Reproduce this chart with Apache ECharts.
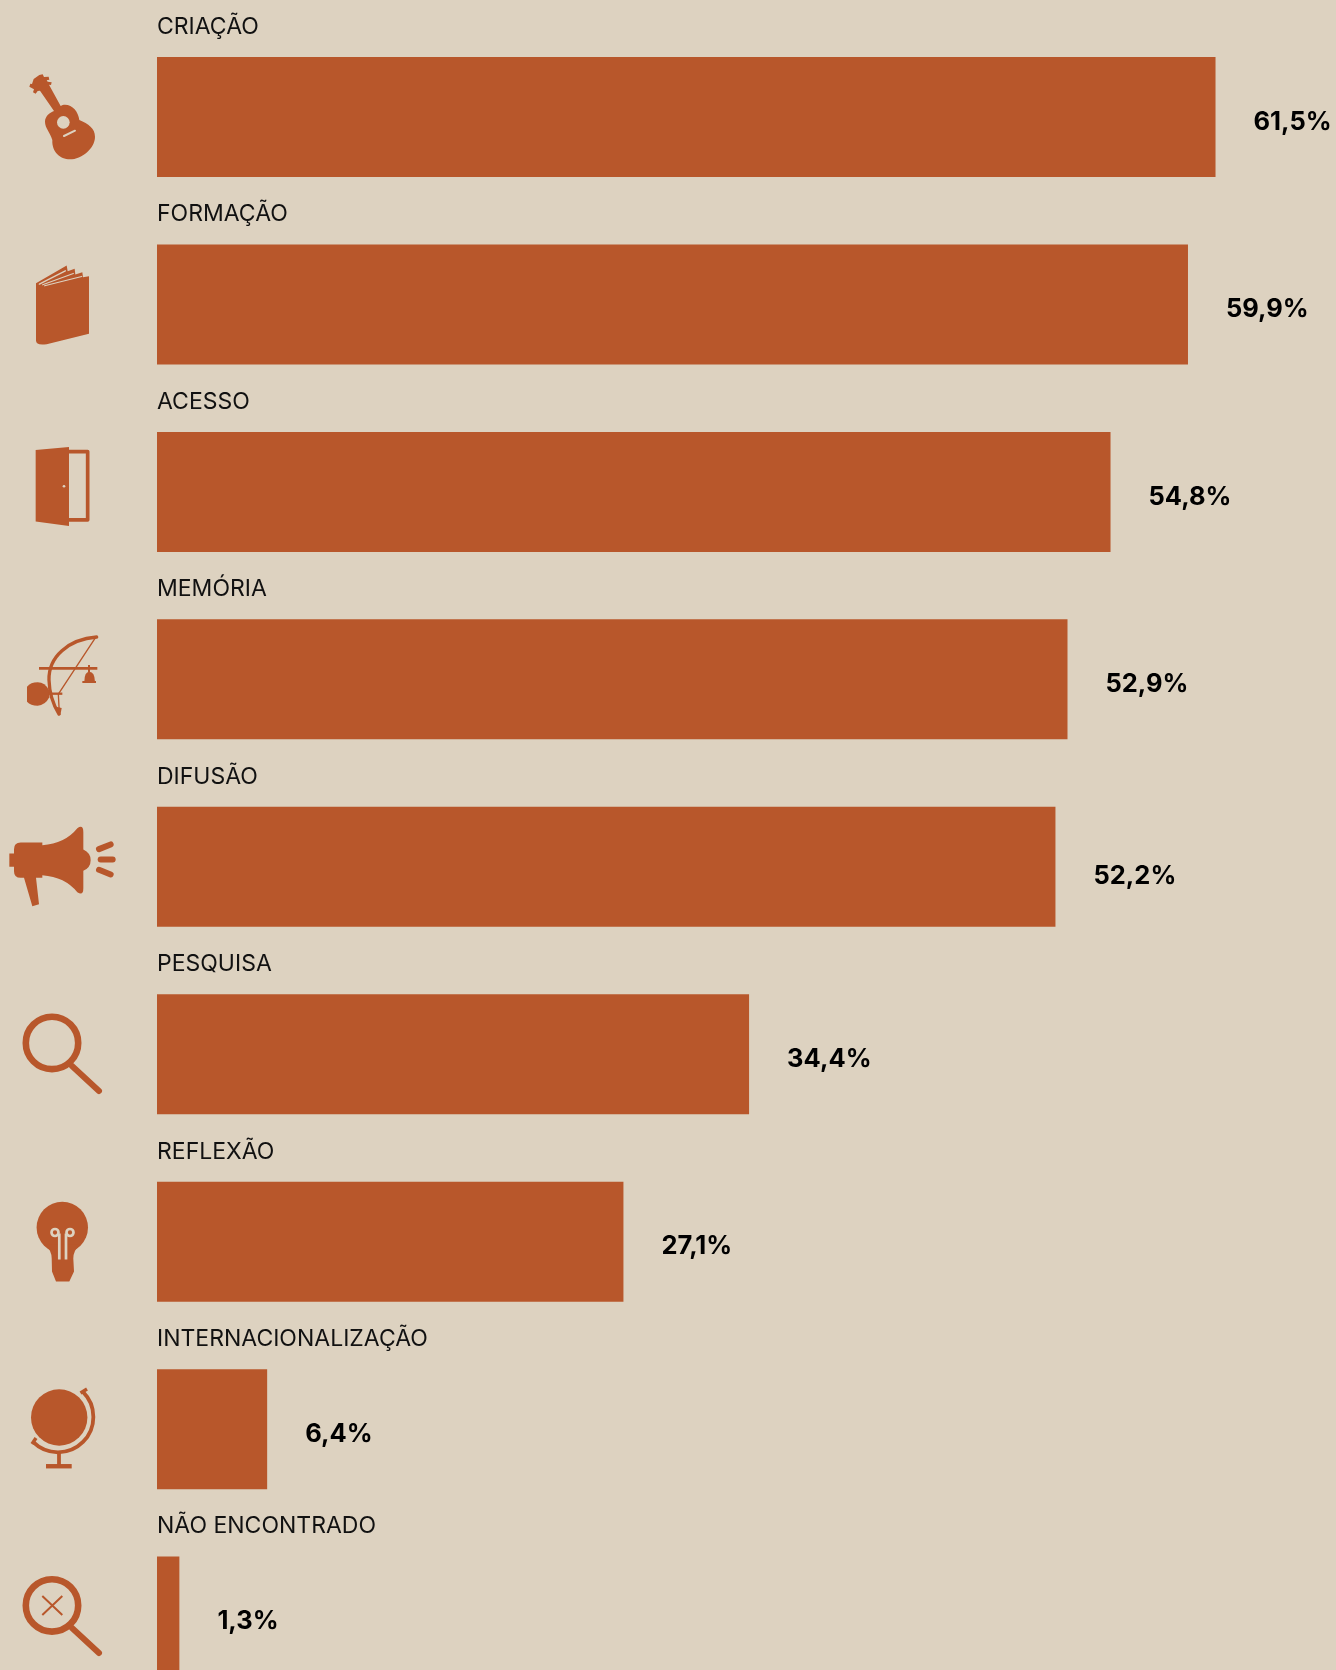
<!DOCTYPE html>
<html><head><meta charset="utf-8">
<style>html,body{margin:0;padding:0;background:#DDD2C0;overflow:hidden}#c{width:1336px;height:1670px}</style>
<script src="https://cdn.jsdelivr.net/npm/echarts@6/dist/echarts.min.js"></script>
</head><body><div id="c"></div>
<script>
const categories = ['CRIAÇÃO','FORMAÇÃO','ACESSO','MEMÓRIA','DIFUSÃO','PESQUISA','REFLEXÃO','INTERNACIONALIZAÇÃO','NÃO ENCONTRADO'];
// Bar lengths as drawn in the picture (the ACESSO bar is drawn a little longer than its printed label).
const barValues = [61.5,59.9,55.4,52.9,52.2,34.4,27.1,6.4,1.3];
const valueLabels = ['61,5%','59,9%','54,8%','52,9%','52,2%','34,4%','27,1%','6,4%','1,3%'];
const labelShift = [5,5,5,5,10,5,5,5,5];

const BAR = '#B8572B', BG = '#DDD2C0', INK = '#111111';
const fill = d => ({type:'path', shape:{pathData:d}, style:{fill:BAR}});
const stroke = (d,w,c,cap) => ({type:'path', shape:{pathData:d}, style:{fill:'none',stroke:c||BAR,lineWidth:w,lineCap:cap||'round',lineJoin:'round'}});
const disc = (cx,cy,r,c) => ({type:'circle', shape:{cx,cy,r}, style:{fill:c||BAR}});
const ring = (cx,cy,r,w,c) => ({type:'circle', shape:{cx,cy,r}, style:{fill:'none',stroke:c||BAR,lineWidth:w}});

// Each icon: pictogram drawn in its own frame, anchored at the row centre (ay) at scale s.
const icons = [
 {s:1/3, ay:351, parts:[
  fill('M120 272 L162 333 C148 338 135 350 135 365 C135 385 150 395 157 420 C155 455 180 478 210 478 C245 478 285 445 285 410 C285 385 265 372 238 360 C235 335 218 314 195 314 C190 314 186 315 182 318 L147 254 L153 255 L155 247 L143 245 L140 241 L148 239 L146 230 L132 231 L128 223 L118 225 L101 237 L96 252 L91 251 L88 260 L102 268 L99 277 L107 281 L113 273 Z'),
  disc(190,367,19,BG),
  stroke('M192 408 L225 392',6,BG)
 ]},
 {s:1/3, ay:912, parts:[
  fill('M108 848 L200 795 L203 812 L224 805 L226 822 L247 815 L249 830 L267 827 L267 1000 L140 1031 Q108 1036 108 1020 Z'),
  stroke('M118 851 L196 811',4,BG),
  stroke('M128 853 L220 819',3.5,BG),
  stroke('M134 856 L245 828',3.5,BG)
 ]},
 {s:1/3, ay:216, parts:[
  fill('M107 90 L207 81 L207 318 L107 305 Z'),
  stroke('M207 95 L263 95 L263 300 L207 300',11,BAR,'butt'),
  disc(192,199,4,BG)
 ]},
 {s:1/3, ay:778, parts:[
  stroke('M290 651 C205 658 145 710 147 780 C148 820 160 855 177 882',10),
  stroke('M285 655 L175 822 L178 880',4),
  stroke('M117 745 L292 745',8,BAR,'butt'),
  stroke('M267 735 L267 758',6,BAR,'butt'),
  fill('M253 785 Q253 755 268 755 Q284 755 285 785 Z'),
  stroke('M247 786 L288 786',6,BAR,'butt'),
  fill('M81 800 Q92 787 113 787 Q135 787 148 812 L148 832 Q135 857 113 857 Q92 857 81 845 Z'),
  stroke('M145 821 L187 821',7,BAR,'butt'),
  fill('M168 860 L185 864 L181 886 Z')
 ]},
 {s:1/3, ay:1340, parts:[
  fill('M62 1267 L127 1267 L127 1275 Q195 1270 232 1224 Q250 1212 250 1236 L250 1288 Q272 1298 272 1320 Q272 1342 250 1352 L250 1404 Q250 1428 232 1416 Q195 1370 127 1365 L127 1373 L108 1373 L117 1452 L97 1458 L72 1373 L62 1373 Q42 1373 42 1353 L42 1340 L28 1340 L28 1300 L42 1300 L42 1287 Q42 1267 62 1267 Z'),
  stroke('M297 1287 L332 1273',18),
  stroke('M302 1318 L338 1318',18),
  stroke('M297 1349 L332 1363',18)
 ]},
 {s:1, ay:1054.3, parts:[
  ring(52,1043,26.2,6.6),
  stroke('M72 1066 L99 1091',6)
 ]},
 {s:1, ay:1240.2, parts:[
  disc(62.3,1226,25.7),
  fill('M45 1243 Q51.7 1249 51.7 1257 L52 1270 L56 1280 L69.3 1280 L74 1270 L73.3 1257 Q73.3 1249 80 1243 Z'),
  ring(55,1231,3.5,2.7,BG),
  ring(70,1231,3.5,2.7,BG),
  stroke('M59.3 1232 L59.3 1258 M66 1232 L66 1258',2.7,BG,'butt')
 ]},
 {s:1, ay:1429.2, parts:[
  disc(59.2,1417.5,28.2),
  stroke('M83 1392 A35 35 0 0 1 33 1442',3.8,BAR,'butt'),
  stroke('M80.5 1393 L87 1389',3.4,BAR,'butt'),
  stroke('M32 1444 L36 1438',3.4,BAR,'butt'),
  stroke('M59 1453 L59 1466',3.8,BAR,'butt'),
  stroke('M46 1466.3 L71.7 1466.3',4.4,BAR,'butt')
 ]},
 {s:1, ay:1616.6, parts:[
  ring(52,1605.4,26.2,6.6),
  stroke('M72 1628 L99 1653',6),
  stroke('M42.3 1596 L62.3 1615 M42.3 1615 L62.3 1596',2,BAR,'butt')
 ]}
];

const chart = echarts.init(document.getElementById('c'), null, {renderer:'canvas', width:1336, height:1670});
chart.setOption({
  animation:false,
  backgroundColor:BG,
  grid:[
    {left:157, top:23.3, width:1179, height:1687, containLabel:false, outerBoundsMode:'none'},
    {left:0, top:23.3, width:157, height:1687, containLabel:false, outerBoundsMode:'none'}
  ],
  xAxis:[
    {gridIndex:0, type:'value', min:0, max:68.5, show:false},
    {gridIndex:1, type:'value', min:0, max:157, show:false}
  ],
  yAxis:[
    {gridIndex:0, type:'category', inverse:true, data:categories, show:false},
    {gridIndex:1, type:'category', inverse:true, data:categories, show:false}
  ],
  series:[
    {type:'bar', xAxisIndex:0, yAxisIndex:0, barWidth:120, barGap:'-100%', silent:true,
     itemStyle:{color:BAR},
     data:barValues.map((v,i)=>({value:v,
       label:{show:true, position:'right', distance:38, offset:[0,labelShift[i]],
         formatter:valueLabels[i],
         color:'#000', fontFamily:'Inter', fontSize:25.5, fontWeight:700}}))},
    {type:'bar', xAxisIndex:0, yAxisIndex:0, barWidth:120, barGap:'-100%', silent:true,
     itemStyle:{color:'rgba(0,0,0,0)'},
     label:{show:true, position:[0,-30], align:'left', verticalAlign:'middle',
       formatter:'{b}', color:INK, fontFamily:'Inter', fontSize:23, fontWeight:400},
     data:barValues},
    {type:'custom', xAxisIndex:1, yAxisIndex:1, silent:true, clip:false,
     data:categories.map((c,i)=>[0,i]),
     encode:{x:0,y:1},
     renderItem:(params,api)=>{
       const ic = icons[api.value(1)];
       const y = api.coord([0,api.value(1)])[1];
       return {type:'group', x:0, y:y-ic.ay*ic.s, scaleX:ic.s, scaleY:ic.s, children:ic.parts};
     }}
  ]
});
</script></body></html>
